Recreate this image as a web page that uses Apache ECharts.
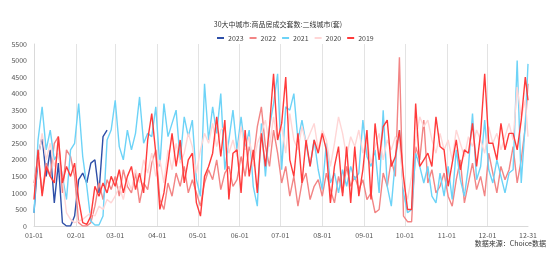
<!DOCTYPE html>
<html><head><meta charset="utf-8">
<script src="https://cdn.jsdelivr.net/npm/echarts@6/dist/echarts.min.js"></script>
<style>html,body{margin:0;padding:0;background:#fff}#c{width:556px;height:265px}</style>
</head><body><div id="c"></div>
<script>
// Tick labels / categories
const monthDays = [31,29,31,30,31,30,31,31,30,31,30,31];
const yTicks = [0,500,1000,1500,2000,2500,3000,3500,4000,4500,5000,5500];
const seriesNames = ['2023','2022','2021','2020','2019'];
const seriesColors = ['#2E4FA8','#F28585','#6DD3F7','#FFD6D6','#FF3B3B'];
const titleText = '30大中城市:商品房成交套数:二线城市(套)';
const sourceText = '数据来源：Choice数据';

// values sampled every 3 days (last value at 12-31)
const v2023 = [400,2100,2700,1500,2300,700,1900,100,0,0,300,1400,1600,1300,1900,2000,1000,2700,2900];
const v2022 = [
 1300,2100,1000,1900,1500,2500,2700,1000,2300,2100,
 1500,100,0,0,100,600,1300,800,1400,1100,
 1500,900,1700,1200,1000,1600,700,1300,1100,1900,
 2300,800,500,1300,900,1600,1200,1800,1000,1400,
 1000,600,1300,1700,1400,2000,1100,1600,1800,1200,
 1400,2100,1500,2400,2000,3000,3600,2400,1800,2900,
 2200,1300,1800,900,1500,600,1300,1600,800,1200,
 1400,900,1600,1100,700,1500,1000,1800,1200,1500,
 1100,1400,800,1000,400,500,1600,1200,2000,1500,
 5100,300,130,130,2400,2000,3200,1300,1700,1000,
 1200,1600,900,600,1400,2000,700,1300,1900,1100,
 1500,900,2200,1600,1000,1800,1400,1700,2400,1300,2000,3000,4300];
const v2021 = [
 400,2600,3600,2300,2900,2000,2200,1500,800,2300,
 2500,3700,2100,1200,150,30,30,300,2600,2900,
 3800,2400,2000,2900,2300,2800,3900,2500,2800,2700,
 3600,1800,3700,2700,3100,3500,2000,3300,2700,3200,
 1400,900,4300,2600,3600,2800,4000,1700,2600,3500,
 2300,3300,2300,2900,1200,600,3100,1500,3000,3700,
 4600,1700,3600,3500,4000,2600,3200,2500,1800,2600,
 1700,1100,2500,1300,1600,1000,1700,1200,1800,1400,
 1600,3200,2100,1800,2300,1000,3500,1200,600,2000,
 2900,1000,400,500,2200,1800,1300,1800,900,700,
 1600,900,1800,800,2300,1400,900,1800,3400,1400,
 1800,3200,1700,1300,2000,1500,1000,1600,1700,5000,1300,3100,4900];
const v2020 = [
 1200,2000,2800,2000,2500,1800,2200,1400,400,200,
 100,150,200,300,400,300,600,500,800,700,
 900,1200,800,1400,1100,1700,1300,2000,1600,2200,
 1500,2000,1300,2300,1700,2500,1900,2200,2800,2400,
 1600,2300,2800,2500,3100,2400,2900,3000,2200,2600,
 2100,3000,2300,2700,1800,2500,2800,3200,2400,3300,
 2600,3000,2200,3400,2600,2300,3000,2500,2800,3100,
 2300,2900,2600,1800,2500,3300,2800,2100,2700,2400,
 2900,2200,2600,1900,2400,2800,2000,2600,2300,2700,
 2500,1200,800,1500,2600,3300,3000,3200,2600,2200,
 2800,2300,2600,2000,2900,2500,2100,2700,2400,2900,
 2600,2200,3000,2500,2800,2300,2700,3100,2600,4200,3300,3800,2700];
const v2019 = [
 800,2300,900,1800,1500,1300,2700,1300,1800,1500,
 1900,800,100,50,300,1200,900,1300,1000,1500,
 1200,1700,1000,1500,1800,1100,1600,1000,2600,3400,
 2200,500,1000,1900,2800,1800,2600,1300,2000,2200,
 700,300,1500,1800,2200,3300,2100,3200,800,2200,
 2300,1000,2900,1500,2300,1000,2800,1800,3000,4600,
 2600,3100,4500,2000,1500,2800,1300,2600,1800,2600,
 2200,2800,2300,700,1800,2400,900,2400,700,2400,
 900,1700,2900,800,3100,2000,3000,3200,1800,2100,
 2900,1500,500,500,3700,1800,2000,2200,1800,3300,
 2400,2300,1200,1900,2600,1700,2300,2200,3100,1800,
 2800,4600,2500,2500,2000,3100,2300,2800,2800,2300,3200,4500,3800];

// build categories (MM-DD for a 366-day calendar)
const categories = [];
monthDays.forEach((n, m) => {
  for (let d = 1; d <= n; d++) categories.push(String(m+1).padStart(2,'0') + '-' + String(d).padStart(2,'0'));
});
function toFull(vals) {
  const arr = new Array(categories.length).fill(null);
  vals.forEach((v, i) => { const pos = i < 122 ? i*3 : categories.length - 1; arr[pos] = v; });
  return arr;
}
const allVals = [v2023, v2022, v2021, v2020, v2019];

const chart = echarts.init(document.getElementById('c'), null, {renderer:'canvas'});
chart.setOption({
  animation: false,
  title: { text: titleText, left: 'center', top: 16,
    textStyle: { fontSize: 7, fontWeight: 'normal', color: '#333', fontFamily: 'Noto Sans CJK SC' } },
  legend: { data: seriesNames, top: 29.5, left: 212, icon: 'rect', itemWidth: 7, itemHeight: 2, itemGap: 6,
    textStyle: { fontSize: 7, color: '#444', fontFamily: 'Noto Sans CJK SC', padding: [0,0,0,-1] } },
  grid: { left: 34, right: 28, top: 44, bottom: 39 },
  xAxis: {
    type: 'category', data: categories, boundaryGap: false,
    axisLine: { lineStyle: { color: '#d9d9d9' } },
    axisTick: { show: false },
    axisLabel: { fontSize: 7, color: '#555', margin: 6, fontFamily: 'Noto Sans CJK SC',
      interval: (i, v) => v.endsWith('-01') || v === '12-31' },
    splitLine: { show: true, lineStyle: { color: '#e3e3e3', width: 1 },
      interval: (i, v) => v.endsWith('-01') && i > 0 }
  },
  yAxis: {
    type: 'value', min: yTicks[0], max: yTicks[yTicks.length-1], interval: 500,
    axisLine: { show: true, lineStyle: { color: '#d9d9d9' } },
    axisTick: { show: false },
    splitLine: { show: false },
    axisLabel: { fontSize: 7, color: '#555', margin: 7, fontFamily: 'Noto Sans CJK SC',
      formatter: (v) => String(v) }
  },
  graphic: [{ type: 'text', right: 10, top: 240,
    style: { text: sourceText, fontSize: 7, fill: '#333', fontFamily: 'Noto Sans CJK SC' } }],
  series: seriesNames.map((n, k) => ({
    name: n, type: 'line', data: toFull(allVals[k]), connectNulls: true,
    showSymbol: false, symbol: 'none', lineStyle: { width: 1.4, color: seriesColors[k] },
    itemStyle: { color: seriesColors[k] }
  }))
});
</script></body></html>
